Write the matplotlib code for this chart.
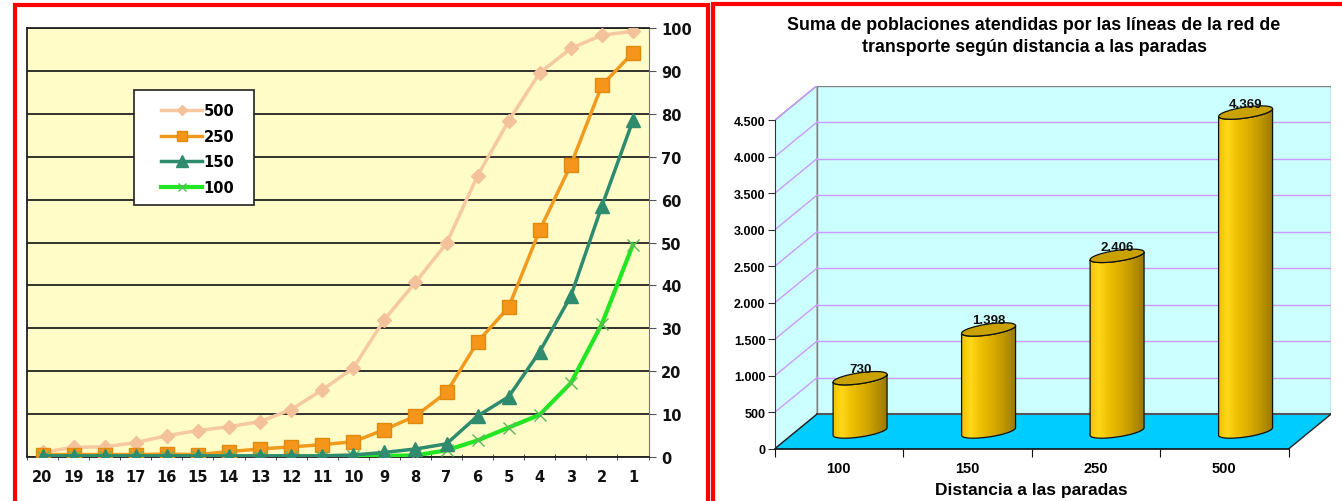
import numpy as np
import matplotlib.pyplot as plt
from matplotlib.patches import Rectangle, Polygon
from matplotlib.colors import LinearSegmentedColormap

# left chart: % of population served vs. number of lines (20 ... 1)
lineas = ['20', '19', '18', '17', '16', '15', '14', '13', '12', '11',
          '10', '9', '8', '7', '6', '5', '4', '3', '2', '1']
serie_500 = [1.0, 2.2, 2.3, 3.3, 4.9, 6.1, 7.0, 8.2, 11.0, 15.6,
             20.7, 32.0, 40.7, 49.8, 65.6, 78.4, 89.6, 95.3, 98.4, 99.3]
serie_250 = [0.5, 0.5, 0.5, 0.5, 0.6, 0.5, 1.2, 1.8, 2.3, 2.8,
             3.5, 6.3, 9.5, 15.0, 26.8, 34.9, 52.9, 68.1, 86.7, 94.3]
serie_150 = [0.2, 0.2, 0.2, 0.2, 0.2, 0.2, 0.2, 0.2, 0.2, 0.2,
             0.4, 1.0, 1.8, 3.0, 9.5, 14.0, 24.5, 37.5, 58.5, 78.5]
serie_100 = [0.0, 0.0, 0.0, 0.0, 0.0, 0.0, 0.0, 0.0, 0.0, 0.0,
             0.1, 0.2, 0.3, 1.5, 3.8, 6.8, 9.8, 17.2, 31.0, 49.5]

# right chart: total population served by distance to stops
distancias = ['100', '150', '250', '500']
poblacion = [730, 1398, 2406, 4369]
y_ticks = [0, 500, 1000, 1500, 2000, 2500, 3000, 3500, 4000, 4500]

W, H = 1342, 502
fig = plt.figure(figsize=(W / 100, H / 100), dpi=100)


def fx(px):
    return px / W


def fy(py):
    return 1 - py / H


# ---------------- left chart ----------------
vfont = 'DejaVu Sans'
ax1 = fig.add_axes([fx(27), fy(457.7), (648.5 - 27) / W, (457.7 - 29.3) / H])
ax1.set_facecolor('#FFFCC8')
x = np.arange(len(lineas))

h500, = ax1.plot(x, serie_500, color='#F7C9A0', lw=2.5, marker='D', ms=7,
                 mfc='#F4C29A', mec='#F4C29A', zorder=3)
h250, = ax1.plot(x, serie_250, color='#F29A1D', lw=2.5, marker='s', ms=9.5,
                 mfc='#F5961A', mec='#E08A10', zorder=4)
h100, = ax1.plot(x, serie_100, color='#22E622', lw=3, marker='x', ms=8,
                 mew=1, mec='#5CB85C', zorder=5)
h150, = ax1.plot(x, serie_150, color='#2E8B6E', lw=2.5, marker='^', ms=10,
                 mfc='#2E8B6E', mec='#2E8B6E', zorder=6)

ax1.set_xlim(-0.5, len(lineas) - 0.5)
ax1.set_ylim(0, 100)
ax1.set_xticks(x, lineas)
ax1.set_xticks(np.arange(-0.5, len(lineas), 1), minor=True)
ax1.tick_params(axis='x', which='major', length=0, pad=9)
ax1.tick_params(axis='x', which='minor', length=5, direction='inout', color='#333')
ax1.yaxis.tick_right()
ax1.set_yticks(range(0, 101, 10))
ax1.tick_params(axis='y', length=5, color='#555', pad=4)
for lab in ax1.get_xticklabels() + ax1.get_yticklabels():
    lab.set_fontfamily(vfont)
    lab.set_fontweight('bold')
    lab.set_fontsize(10.5)
    lab.set_color('#111')
ax1.grid(axis='y', color='#222', lw=1.3)
for s in ['left', 'bottom', 'top']:
    ax1.spines[s].set_color('#222')
    ax1.spines[s].set_linewidth(1.3)
ax1.spines['right'].set_color('#777')

# legend box drawn by hand so its size matches
ax1.add_patch(Rectangle((fx(134), fy(206)), (254 - 134) / W, (206 - 90.7) / H,
                        transform=fig.transFigure, fc='white', ec='#222',
                        lw=1.2, zorder=7))
leg = ax1.legend([h500, h250, h150, h100], ['500', '250', '150', '100'],
                 loc='upper left', bbox_to_anchor=(fx(154), fy(97)),
                 bbox_transform=fig.transFigure, frameon=False, borderpad=0,
                 handlelength=2.8, handletextpad=0.1, labelspacing=0.72,
                 markerscale=0.8, prop={'family': vfont, 'weight': 'bold', 'size': 10.5})
leg.set_zorder(8)

# ---------------- right chart (pseudo 3D cylinders) ----------------
afont = 'Liberation Sans'
DX, DY = 0.332, 479          # depth offset in category / value units
n = len(distancias)
ax2 = fig.add_axes([fx(774.5), fy(450), (n + DX) * 128.5 / W, 363.5 / H])
ax2.set_xlim(0, n + DX)
ax2.set_ylim(0, y_ticks[-1] + DY)
ax2.patch.set_alpha(0)
top = y_ticks[-1]

# walls and floor
ax2.add_patch(Polygon([(DX, DY), (n + DX, DY), (n + DX, top + DY), (DX, top + DY)],
                      fc='#CCFFFF', ec='#808080', lw=1, zorder=0))
ax2.add_patch(Polygon([(0, 0), (DX, DY), (DX, top + DY), (0, top)],
                      fc='#CCFFFF', ec='#808080', lw=1, zorder=0))
for v in y_ticks[1:-1]:
    ax2.plot([DX, n + DX], [v + DY, v + DY], color='#CC99FF', lw=1, zorder=1)
for v in y_ticks[1:]:
    ax2.plot([0, DX], [v, v + DY], color='#CC99FF', lw=1, zorder=1)
ax2.add_patch(Polygon([(0, 0), (n, 0), (n + DX, DY), (DX, DY)],
                      fc='#00CCFF', ec='none', zorder=1))
ax2.plot([DX, n + DX], [DY, DY], color='#555', lw=1.5, zorder=1.5)
ax2.plot([0, DX], [0, DY], color='#222', lw=1, zorder=1.5)
ax2.plot([n, n + DX], [0, DY], color='#222', lw=1, zorder=1.5)

gold = LinearSegmentedColormap.from_list('gold', [
    (0.0, '#F2C200'), (0.15, '#FFD81A'), (0.35, '#EDC000'),
    (0.6, '#D6AA00'), (0.85, '#B38D00'), (1.0, '#9A7700')])
grad = np.linspace(0, 1, 200).reshape(1, -1)

bw = 0.42        # cylinder width (category units)
eh = 75          # half height of the end ellipses (value units)
tilt = 250       # slight slant of the ellipses
for i, v in enumerate(poblacion):
    cx = i + 0.5 + DX / 2
    base = DY / 2
    tv = v + DY / 2
    a = bw / 2
    tt = np.linspace(np.pi, 2 * np.pi, 80)
    xs = cx + a * np.cos(tt)
    yb = base + eh * np.sin(tt) + tilt * (xs - cx)
    yt = tv + eh * np.sin(tt) + tilt * (xs - cx)
    body = Polygon(list(zip(xs, yb)) + list(zip(xs[::-1], yt[::-1])),
                   fc='none', ec='#111', lw=0.9, zorder=4)
    ax2.add_patch(body)
    im = ax2.imshow(grad, extent=[cx - a, cx + a, base - 3 * eh, tv + 3 * eh],
                    aspect='auto', cmap=gold, zorder=3, interpolation='bilinear')
    im.set_clip_path(body)
    t2 = np.linspace(0, 2 * np.pi, 120)
    ex = cx + a * np.cos(t2)
    ey = tv + eh * np.sin(t2) + tilt * (ex - cx)
    ax2.add_patch(Polygon(list(zip(ex, ey)), fc='#C9A200', ec='#111', lw=0.9, zorder=5))
    ax2.text(cx, tv + 123, f'{v:,}'.replace(',', '.'), ha='center', va='center',
             fontsize=9.5, fontweight='bold', family=afont, color='#111', zorder=6)

ax2.set_xlim(0, n + DX)
ax2.set_ylim(0, top + DY)
ax2.spines['top'].set_visible(False)
ax2.spines['right'].set_visible(False)
ax2.spines['left'].set_bounds(0, top)
ax2.spines['bottom'].set_bounds(0, n)
ax2.spines['left'].set_color('#333')
ax2.spines['bottom'].set_color('#111')
ax2.spines['bottom'].set_linewidth(1.2)
ax2.set_yticks(y_ticks, [f'{v:,}'.replace(',', '.') for v in y_ticks])
ax2.tick_params(axis='y', length=5, pad=1.5, color='#333')
ax2.set_xticks(range(n + 1), [''] * (n + 1))
ax2.set_xticks(np.arange(n) + 0.5, distancias, minor=True)
ax2.tick_params(axis='x', which='major', length=6, color='#111')
ax2.tick_params(axis='x', which='minor', length=0, pad=9)
for lab in ax2.get_yticklabels():
    lab.set_fontfamily(afont)
    lab.set_fontweight('bold')
    lab.set_fontsize(9)
for lab in ax2.get_xticklabels(minor=True):
    lab.set_fontfamily(afont)
    lab.set_fontweight('bold')
    lab.set_fontsize(10.5)

fig.text(fx(1034), fy(25), 'Suma de poblaciones atendidas por las líneas de la red de',
         ha='center', va='center', fontsize=12.8, fontweight='bold', family=afont)
fig.text(fx(1034), fy(47), 'transporte según distancia a las paradas',
         ha='center', va='center', fontsize=12.8, fontweight='bold', family=afont)
fig.text(fx(1031), fy(491), 'Distancia a las paradas', ha='center', va='center',
         fontsize=12.5, fontweight='bold', family=afont)

# red frames around the two panels
fig.add_artist(Rectangle((fx(14.5), fy(530)), (708 - 14.5) / W, (530 - 6) / H,
                         transform=fig.transFigure, fill=False, ec='#FF0000', lw=3))
fig.add_artist(Rectangle((fx(712.8), fy(530)), (1380 - 712.8) / W, (530 - 5.3) / H,
                         transform=fig.transFigure, fill=False, ec='#FF0000', lw=3))

fig.savefig('out.png', dpi=100, facecolor='white')
